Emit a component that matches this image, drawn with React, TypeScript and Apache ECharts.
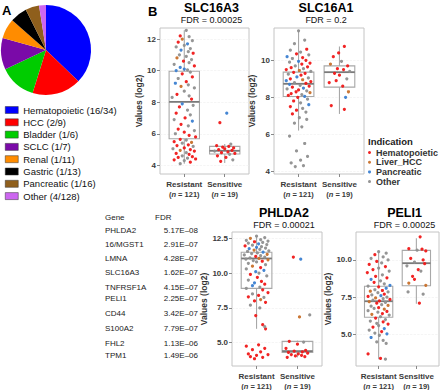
import React, { useEffect, useRef } from "react";
import * as echarts from "echarts";

const FONT = "'Liberation Sans', Arial, Helvetica, sans-serif";

// ---------- Panel A: pie ----------
const pieNames = ["Hematopoietic", "HCC", "Bladder", "SCLC", "Renal", "Gastric", "Pancreatic", "Other"];
const pieHits = [16, 2, 1, 1, 1, 1, 1, 4];
const pieTotals = [34, 9, 6, 7, 11, 13, 16, 128];
const pieColors = ["#0000ff", "#ff0000", "#00cc00", "#7a0aa8", "#ff8c00", "#000000", "#8f5f1c", "#cc66f0"];

// ---------- Panel B ----------
const indications = ["Hematopoietic", "Liver_HCC", "Pancreatic", "Other"];
const indicationColors = ["#f01818", "#c8702a", "#3b7fd1", "#8f8f8f"];
const groups = ["Resistant", "Sensitive"];
const groupN = [121, 19];

const geneTitles = ["SLC16A3", "SLC16A1", "PHLDA2", "PELI1"];
const geneFdr = ["0.00025", "0.2", "0.00021", "0.00025"];
const yTicks = [
  [4, 6, 8, 10, 12],
  [4, 6, 8, 10],
  [5, 7.5, 10, 12.5],
  [5, 7.5, 10],
];
const yRanges = [
  [3.45, 12.7],
  [3.85, 11.75],
  [3.33, 12.95],
  [2.89, 11.87],
];
// box stats: [lower whisker, Q1, median, Q3, upper whisker]
const boxResistant = [
  [4.1, 5.68, 8.02, 9.96, 12.55],
  [6.2, 8.04, 8.73, 9.36, 11.6],
  [6.0, 8.9, 11.05, 11.5, 12.65],
  [3.35, 6.16, 7.23, 8.23, 10.54],
];
const boxSensitive = [
  [4.15, 4.72, 4.92, 5.2, 5.35],
  [7.1, 8.55, 9.36, 9.7, 10.75],
  [3.95, 4.3, 4.4, 5.1, 5.15],
  [7.07, 8.27, 9.78, 10.64, 11.45],
];

// points: [jitter offset, value, indication index]
const slc16a3Res = [
  [0.05, 12.55, 3], [-0.1, 12.2, 0], [0.12, 12.15, 3], [-0.05, 12.0, 1], [0.2, 11.9, 3], [-0.15, 11.8, 0], [0.08, 11.7, 2],
  [0.0, 11.6, 3], [-0.2, 11.5, 3], [0.15, 11.4, 3], [-0.08, 11.3, 2], [0.1, 11.2, 3], [0.22, 11.1, 0], [-0.12, 11.0, 3],
  [0.05, 10.9, 3], [-0.18, 10.8, 1], [0.18, 10.7, 3], [-0.02, 10.6, 0], [0.12, 10.5, 3], [-0.25, 10.4, 3], [0.25, 10.3, 0],
  [-0.1, 10.2, 2], [0.0, 10.1, 2], [0.08, 10.05, 3], [-0.2, 10.0, 2], [0.15, 9.9, 3], [-0.05, 9.8, 0], [0.2, 9.6, 0],
  [-0.15, 9.5, 3], [0.05, 9.3, 0], [-0.22, 9.2, 2], [0.1, 9.1, 3], [-0.08, 9.0, 1], [0.25, 8.9, 3], [0.0, 8.7, 3],
  [-0.18, 8.5, 0], [0.12, 8.4, 3], [-0.3, 8.3, 3], [0.18, 8.2, 0], [-0.05, 7.9, 2], [0.22, 7.8, 3], [-0.12, 7.7, 0],
  [0.08, 7.5, 3], [-0.2, 7.3, 0], [0.15, 7.2, 3], [0.02, 7.0, 0], [-0.25, 6.9, 3], [0.2, 6.8, 2], [-0.08, 6.6, 0],
  [0.1, 6.5, 3], [-0.15, 6.3, 0], [0.25, 6.2, 3], [0.0, 6.1, 0], [-0.22, 6.0, 3], [0.12, 5.9, 0], [0.28, 5.8, 0],
  [-0.1, 5.65, 0], [0.05, 5.6, 3], [-0.25, 5.5, 0], [0.18, 5.45, 1], [-0.05, 5.4, 3], [0.1, 5.3, 0], [-0.18, 5.25, 0],
  [0.22, 5.2, 3], [0.0, 5.1, 0], [-0.28, 5.05, 3], [0.15, 5.0, 0], [-0.1, 4.95, 1], [0.25, 4.9, 0], [0.05, 4.8, 3],
  [-0.2, 4.75, 0], [0.12, 4.7, 0], [-0.05, 4.6, 3], [0.2, 4.55, 0], [-0.15, 4.5, 0], [0.08, 4.45, 3], [0.28, 4.4, 0],
  [-0.25, 4.35, 0], [0.0, 4.3, 3], [0.15, 4.2, 0], [-0.1, 4.1, 3],
];
const slc16a3Sen = [
  [0.05, 7.3, 2], [-0.12, 6.7, 0], [0.15, 5.35, 3], [-0.2, 5.25, 0], [0.1, 5.2, 0], [-0.05, 5.15, 0], [0.22, 5.1, 0],
  [0.0, 5.05, 0], [-0.15, 5.0, 0], [0.18, 4.95, 0], [-0.25, 4.9, 3], [0.08, 4.85, 0], [-0.08, 4.8, 0], [0.25, 4.75, 0],
  [0.12, 4.7, 3], [-0.18, 4.6, 0], [0.03, 4.5, 0], [0.2, 4.35, 3], [-0.1, 4.25, 0],
];
const slc16a1Res = [
  [0.0, 11.6, 3], [0.15, 11.1, 3], [-0.1, 10.9, 3], [0.2, 10.6, 0], [-0.2, 10.55, 3], [0.05, 10.45, 3], [-0.05, 10.35, 0],
  [0.25, 10.3, 3], [-0.28, 10.2, 2], [0.1, 10.15, 0], [-0.15, 10.1, 3], [0.18, 10.0, 0], [0.0, 9.95, 2], [-0.22, 9.9, 3],
  [0.28, 9.85, 0], [0.08, 9.8, 0], [-0.08, 9.7, 3], [0.22, 9.65, 0], [-0.18, 9.6, 0], [0.12, 9.55, 3], [-0.3, 9.5, 0],
  [0.02, 9.45, 1], [0.3, 9.4, 3], [-0.12, 9.35, 0], [0.16, 9.3, 0], [-0.25, 9.25, 3], [0.06, 9.2, 0], [-0.04, 9.1, 2],
  [0.24, 9.05, 3], [-0.2, 9.0, 0], [0.1, 8.95, 1], [-0.3, 8.9, 2], [0.3, 8.85, 0], [-0.1, 8.8, 3], [0.18, 8.75, 0],
  [-0.22, 8.7, 2], [0.04, 8.65, 3], [0.26, 8.6, 0], [-0.15, 8.55, 0], [0.12, 8.5, 2], [-0.28, 8.45, 3], [0.0, 8.4, 0],
  [0.2, 8.35, 3], [-0.06, 8.3, 0], [0.28, 8.25, 1], [-0.18, 8.2, 0], [0.08, 8.15, 3], [-0.25, 8.1, 0], [0.15, 8.05, 2],
  [-0.02, 8.0, 0], [0.22, 7.9, 3], [-0.12, 7.8, 0], [0.05, 7.7, 3], [0.25, 7.6, 2], [-0.2, 7.5, 0], [0.1, 7.4, 3],
  [-0.05, 7.3, 0], [0.18, 7.2, 3], [-0.15, 7.1, 0], [0.02, 6.9, 3], [0.2, 6.8, 3], [-0.1, 6.6, 3], [0.08, 6.4, 3],
  [-0.22, 5.9, 3], [0.15, 5.5, 3], [-0.05, 5.1, 3], [0.22, 4.8, 3], [0.05, 4.6, 3], [-0.18, 4.45, 3], [0.12, 4.3, 3],
  [-0.08, 4.25, 3],
];
const slc16a1Sen = [
  [0.12, 10.75, 0], [-0.02, 10.4, 0], [-0.15, 10.2, 0], [0.05, 9.95, 3], [-0.22, 9.8, 1], [0.2, 9.7, 0], [-0.05, 9.55, 0],
  [0.1, 9.5, 0], [0.25, 9.4, 3], [-0.12, 9.3, 0], [0.0, 9.2, 0], [0.18, 9.0, 3], [-0.25, 8.8, 0], [0.08, 8.6, 0],
  [0.22, 8.3, 1], [0.15, 8.0, 2], [-0.2, 7.55, 0], [0.12, 7.35, 0], [-0.08, 8.9, 0],
];
const phlda2Res = [
  [0.0, 12.65, 3], [0.2, 12.55, 3], [-0.15, 12.5, 1], [0.1, 12.4, 3], [-0.25, 12.35, 3], [0.28, 12.3, 3], [-0.05, 12.25, 0],
  [0.15, 12.2, 3], [-0.2, 12.15, 3], [0.05, 12.1, 2], [0.25, 12.05, 3], [-0.1, 12.0, 3], [-0.28, 11.95, 0], [0.12, 11.9, 3],
  [0.0, 11.85, 2], [0.22, 11.8, 3], [-0.18, 11.75, 2], [0.08, 11.7, 3], [-0.06, 11.65, 1], [0.3, 11.6, 3], [-0.22, 11.55, 3],
  [0.16, 11.5, 2], [0.02, 11.45, 3], [-0.12, 11.4, 3], [0.26, 11.35, 1], [-0.3, 11.3, 3], [0.1, 11.25, 3], [-0.02, 11.2, 0],
  [0.2, 11.15, 3], [-0.16, 11.1, 3], [0.06, 11.05, 1], [-0.26, 11.0, 3], [0.28, 10.95, 1], [-0.08, 10.9, 3], [0.14, 10.85, 0],
  [0.0, 10.8, 3], [-0.2, 10.7, 3], [0.22, 10.6, 3], [-0.1, 10.5, 1], [0.1, 10.4, 0], [-0.25, 10.3, 3], [0.18, 10.2, 2],
  [-0.02, 10.1, 2], [0.06, 10.0, 3], [-0.15, 9.9, 0], [0.25, 9.8, 3], [0.02, 9.7, 0], [-0.2, 9.5, 3], [0.12, 9.4, 0],
  [-0.05, 9.3, 2], [0.2, 9.2, 0], [-0.1, 9.1, 2], [0.08, 9.0, 3], [-0.25, 8.9, 3], [0.15, 8.8, 0], [0.28, 8.6, 0],
  [-0.1, 8.5, 3], [0.05, 8.4, 0], [-0.2, 8.3, 0], [0.18, 8.25, 3], [0.1, 8.1, 1], [-0.05, 8.0, 0], [0.22, 7.9, 0],
  [-0.15, 7.7, 3], [0.08, 7.5, 3], [-0.02, 6.95, 0], [0.15, 6.3, 0], [0.2, 6.15, 3], [0.22, 6.0, 0], [-0.25, 4.75, 0],
  [0.05, 4.85, 0], [0.2, 4.6, 0], [-0.1, 4.5, 0], [0.1, 4.35, 0], [-0.2, 4.2, 0], [0.28, 4.15, 0], [0.0, 4.1, 0],
  [-0.15, 4.0, 0], [0.15, 3.95, 0], [-0.05, 3.85, 0],
];
const phlda2Sen = [
  [-0.1, 11.15, 0], [0.08, 11.0, 2], [0.3, 7.0, 3], [0.05, 6.85, 1], [-0.2, 5.1, 0], [0.15, 5.05, 3], [0.0, 4.9, 0],
  [-0.28, 4.6, 0], [0.2, 4.45, 0], [-0.08, 4.4, 0], [0.12, 4.35, 0], [-0.22, 4.3, 0], [0.25, 4.25, 0], [0.02, 4.2, 0],
  [-0.15, 4.15, 0], [0.1, 4.1, 0], [-0.05, 4.05, 0], [0.18, 4.0, 0], [-0.25, 3.95, 0],
];
const peli1Res = [
  [0.0, 10.55, 3], [0.2, 10.45, 3], [-0.1, 10.35, 0], [0.12, 10.2, 3], [-0.2, 10.1, 3], [0.25, 10.0, 3], [-0.05, 9.9, 0],
  [0.08, 9.8, 3], [-0.25, 9.7, 0], [0.18, 9.55, 0], [0.0, 9.45, 3], [-0.15, 9.35, 0], [0.28, 9.25, 3], [-0.3, 9.15, 0],
  [0.1, 9.0, 3], [-0.08, 8.9, 0], [0.22, 8.8, 0], [-0.2, 8.7, 2], [0.05, 8.6, 3], [-0.12, 8.5, 0], [0.15, 8.4, 3],
  [0.3, 8.3, 2], [-0.28, 8.25, 3], [0.0, 8.2, 0], [0.2, 8.1, 2], [-0.1, 8.0, 3], [0.1, 7.95, 0], [-0.22, 7.9, 1],
  [0.25, 7.85, 3], [-0.02, 7.8, 3], [0.15, 7.7, 0], [-0.18, 7.65, 3], [0.06, 7.6, 2], [-0.28, 7.55, 0], [0.22, 7.5, 3],
  [-0.08, 7.45, 1], [0.12, 7.4, 3], [0.3, 7.35, 0], [-0.15, 7.3, 3], [0.02, 7.25, 0], [-0.25, 7.2, 1], [0.18, 7.15, 3],
  [-0.05, 7.1, 0], [0.08, 7.0, 3], [0.25, 6.95, 1], [-0.2, 6.9, 3], [0.0, 6.8, 0], [-0.12, 6.75, 3], [0.15, 6.7, 1],
  [-0.28, 6.6, 3], [0.22, 6.55, 0], [-0.02, 6.5, 3], [0.1, 6.4, 0], [-0.18, 6.35, 1], [0.28, 6.3, 3], [0.05, 6.2, 3],
  [-0.08, 6.1, 0], [0.18, 6.0, 3], [-0.22, 5.9, 3], [0.12, 5.85, 0], [-0.05, 5.75, 3], [0.25, 5.7, 0], [0.0, 5.6, 3],
  [-0.15, 5.5, 0], [0.15, 5.4, 2], [-0.25, 5.3, 3], [0.08, 5.2, 0], [-0.1, 5.1, 3], [0.22, 5.05, 2], [0.02, 4.95, 3],
  [-0.2, 4.8, 2], [0.12, 4.6, 3], [-0.05, 4.5, 3], [0.2, 4.4, 3], [-0.28, 3.7, 0], [0.05, 3.4, 0], [0.18, 3.35, 3],
];
const peli1Sen = [
  [0.1, 11.55, 0], [-0.2, 10.75, 0], [0.15, 10.72, 0], [0.25, 10.6, 0], [0.02, 10.65, 3], [-0.15, 10.1, 0], [0.18, 10.0, 0],
  [-0.05, 9.85, 3], [0.22, 9.75, 0], [-0.25, 9.6, 3], [0.05, 9.35, 0], [0.12, 9.25, 3], [-0.1, 8.9, 0], [-0.2, 8.45, 1],
  [0.25, 8.3, 1], [-0.22, 7.85, 3], [0.18, 7.7, 3], [0.08, 7.1, 0], [-0.05, 8.7, 0],
];
const pointsResistant = [slc16a3Res, slc16a1Res, phlda2Res, peli1Res];
const pointsSensitive = [slc16a3Sen, slc16a1Sen, phlda2Sen, peli1Sen];

// ---------- table ----------
const tableGenes = ["PHLDA2", "16/MGST1", "LMNA", "SLC16A3", "TNFRSF1A", "PELI1", "CD44", "S100A2", "FHL2", "TPM1"];
const tableFdr = ["5.17E\u201308", "2.91E\u201307", "4.28E\u201307", "1.62E\u201307", "4.15E\u201307", "2.25E\u201307", "3.42E\u201307", "7.79E\u201307", "1.13E\u201306", "1.49E\u201306"];

// ---------- layout (positions only) ----------
const grids = [
  { left: 160, top: 28, width: 89, height: 146 },
  { left: 274, top: 28, width: 90, height: 146 },
  { left: 232, top: 232, width: 90, height: 136 },
  { left: 356, top: 232, width: 83, height: 136 },
];
const nameGaps = [16, 18, 23, 23];
const titleY = [[8, 20], [8, 20], [213, 225], [213, 225]];
const tableRowsY = [230, 244, 258, 272, 287, 298, 313, 328, 343, 355];

function buildOption() {
  const series: any[] = [];
  const xAxes: any[] = [];
  const yAxes: any[] = [];
  const graphics: any[] = [];

  series.push({
    type: "pie",
    center: [46, 50],
    radius: 45,
    startAngle: 90,
    clockwise: true,
    label: { show: false },
    labelLine: { show: false },
    silent: true,
    data: pieNames.map((n, i) => ({
      name: `${n} (${pieHits[i]}/${pieTotals[i]})`,
      value: pieHits[i] / pieTotals[i],
      itemStyle: { color: pieColors[i] },
    })),
  });

  grids.forEach((g, gi) => {
    const isDecimal = yTicks[gi].some((t) => t % 1 !== 0);
    xAxes.push({
      type: "value",
      gridIndex: gi,
      min: 0.4,
      max: 2.6,
      axisLine: { show: false },
      splitLine: { show: false },
      axisTick: { show: true, customValues: [1, 2], length: 3, lineStyle: { color: "#888" } },
      axisLabel: {
        customValues: [1, 2],
        margin: 5,
        fontFamily: FONT,
        formatter: (v: number) => {
          const i = Math.round(v) - 1;
          return `{b|${groups[i]}}\n{p|(}{i|n}{p| = ${groupN[i]})}`;
        },
        rich: {
          b: { fontFamily: FONT, fontSize: 8, fontWeight: "bold", color: "#3a3a3a", lineHeight: 10 },
          p: { fontFamily: FONT, fontSize: 7.5, fontWeight: "bold", color: "#3a3a3a", lineHeight: 10 },
          i: { fontFamily: FONT, fontSize: 7.5, fontWeight: "bold", fontStyle: "italic", color: "#3a3a3a", lineHeight: 10 },
        },
      },
    });
    yAxes.push({
      type: "value",
      gridIndex: gi,
      min: yRanges[gi][0],
      max: yRanges[gi][1],
      name: "Values (log2)",
      nameLocation: "middle",
      nameRotate: 90,
      nameGap: nameGaps[gi],
      nameTextStyle: { fontFamily: FONT, fontSize: 8.5, fontWeight: "bold", color: "#333" },
      axisLine: { show: false },
      axisTick: { show: true, customValues: yTicks[gi], length: 3, lineStyle: { color: "#888" } },
      axisLabel: {
        customValues: yTicks[gi],
        margin: 4,
        fontFamily: FONT,
        fontSize: 8,
        fontWeight: "bold",
        color: "#3a3a3a",
        formatter: (v: number) => (isDecimal ? v.toFixed(1) : String(v)),
      },
      splitLine: { show: true, lineStyle: { color: "#eeeeee", width: 0.6, type: "dashed" } },
    });

    series.push({
      type: "custom",
      xAxisIndex: gi,
      yAxisIndex: gi,
      z: 2,
      silent: true,
      encode: { x: 0, y: [1, 2, 3, 4, 5] },
      data: [
        [1, ...boxResistant[gi]],
        [2, ...boxSensitive[gi]],
      ],
      renderItem: (params: any, api: any) => {
        const x = api.value(0);
        const pts = [1, 2, 3, 4, 5].map((k) => api.coord([x, api.value(k)]));
        const half = api.size([0.75, 0])[0] / 2;
        const cx = pts[0][0];
        const stroke = "#a8a8a8";
        return {
          type: "group",
          children: [
            { type: "line", shape: { x1: cx, y1: pts[0][1], x2: cx, y2: pts[1][1] }, style: { stroke, lineWidth: 1.1 } },
            { type: "line", shape: { x1: cx, y1: pts[3][1], x2: cx, y2: pts[4][1] }, style: { stroke, lineWidth: 1.1 } },
            {
              type: "rect",
              shape: { x: cx - half, y: pts[3][1], width: half * 2, height: pts[1][1] - pts[3][1] },
              style: { fill: "rgba(255,255,255,0)", stroke, lineWidth: 1.1 },
            },
            { type: "line", shape: { x1: cx - half, y1: pts[2][1], x2: cx + half, y2: pts[2][1] }, style: { stroke: "#7a7a7a", lineWidth: 1.8 } },
          ],
        };
      },
    });

    indications.forEach((ind, ci) => {
      const data: number[][] = [];
      pointsResistant[gi].forEach((p) => { if (p[2] === ci) data.push([1 + p[0], p[1]]); });
      pointsSensitive[gi].forEach((p) => { if (p[2] === ci) data.push([2 + p[0], p[1]]); });
      series.push({
        type: "scatter",
        name: ind,
        xAxisIndex: gi,
        yAxisIndex: gi,
        z: 3,
        symbol: "circle",
        symbolSize: 3.2,
        silent: true,
        itemStyle: { color: indicationColors[ci], opacity: 0.95 },
        data,
      });
    });

    const cx = g.left + g.width / 2 + 7;
    graphics.push({
      type: "text", x: cx, y: titleY[gi][0],
      style: { text: geneTitles[gi], fontFamily: FONT, fontSize: 12.5, fontWeight: "bold", fill: "#000", textAlign: "center", textVerticalAlign: "middle", align: "center", verticalAlign: "middle" },
    });
    graphics.push({
      type: "text", x: cx, y: titleY[gi][1],
      style: { text: `FDR = ${geneFdr[gi]}`, fontFamily: FONT, fontSize: 9, fill: "#111", textAlign: "center", textVerticalAlign: "middle", align: "center", verticalAlign: "middle" },
    });
  });

  const txt = (text: string, x: number, y: number, extra: any = {}) => ({
    type: "text", x, y,
    style: { text, fontFamily: FONT, fontSize: 8, fill: "#222", textAlign: "left", textVerticalAlign: "middle", align: "left", verticalAlign: "middle", ...extra },
  });
  graphics.push(txt("A", 2, 10, { fontSize: 13, fontWeight: "bold", fill: "#000" }));
  graphics.push(txt("B", 148, 11, { fontSize: 13, fontWeight: "bold", fill: "#000" }));
  graphics.push(txt("Indication", 368, 141, { fontSize: 9.5, fontWeight: "bold", fill: "#222" }));
  graphics.push(txt("Gene", 105, 217));
  graphics.push(txt("FDR", 155, 217));
  tableGenes.forEach((gname, i) => {
    graphics.push(txt(gname, 105, tableRowsY[i]));
    graphics.push(txt(tableFdr[i], 198, tableRowsY[i], { textAlign: "right", align: "right" }));
  });

  return {
    animation: false,
    backgroundColor: "#ffffff",
    textStyle: { fontFamily: FONT },
    grid: grids.map((g) => ({ ...g, show: true, borderColor: "#c4c4c4", borderWidth: 1, backgroundColor: "transparent" })),
    xAxis: xAxes,
    yAxis: yAxes,
    legend: [
      {
        data: pieNames.map((n, i) => `${n} (${pieHits[i]}/${pieTotals[i]})`),
        orient: "vertical",
        left: 5,
        top: 105,
        icon: "rect",
        itemWidth: 13,
        itemHeight: 7,
        itemGap: 2.3,
        selectedMode: false,
        padding: 0,
        itemStyle: { borderColor: "#333", borderWidth: 0.5 },
        textStyle: { fontFamily: FONT, fontSize: 9.5, color: "#111", lineHeight: 7 },
      },
      {
        data: indications,
        orient: "vertical",
        left: 368,
        top: 148,
        icon: "circle",
        itemWidth: 3,
        itemHeight: 3,
        itemGap: 0.7,
        selectedMode: false,
        padding: 0,
        textStyle: { fontFamily: FONT, fontSize: 9, fontWeight: "bold", color: "#333", lineHeight: 6 },
      },
    ],
    graphic: graphics,
    series,
  };
}

export default function App() {
  const ref = useRef<HTMLDivElement>(null);
  useEffect(() => {
    const chart = echarts.init(ref.current!, null, { renderer: "svg" });
    chart.setOption(buildOption());
    return () => chart.dispose();
  }, []);
  return <div ref={ref} style={{ position: "fixed", left: 0, top: 0, width: 440, height: 390 }} />;
}
